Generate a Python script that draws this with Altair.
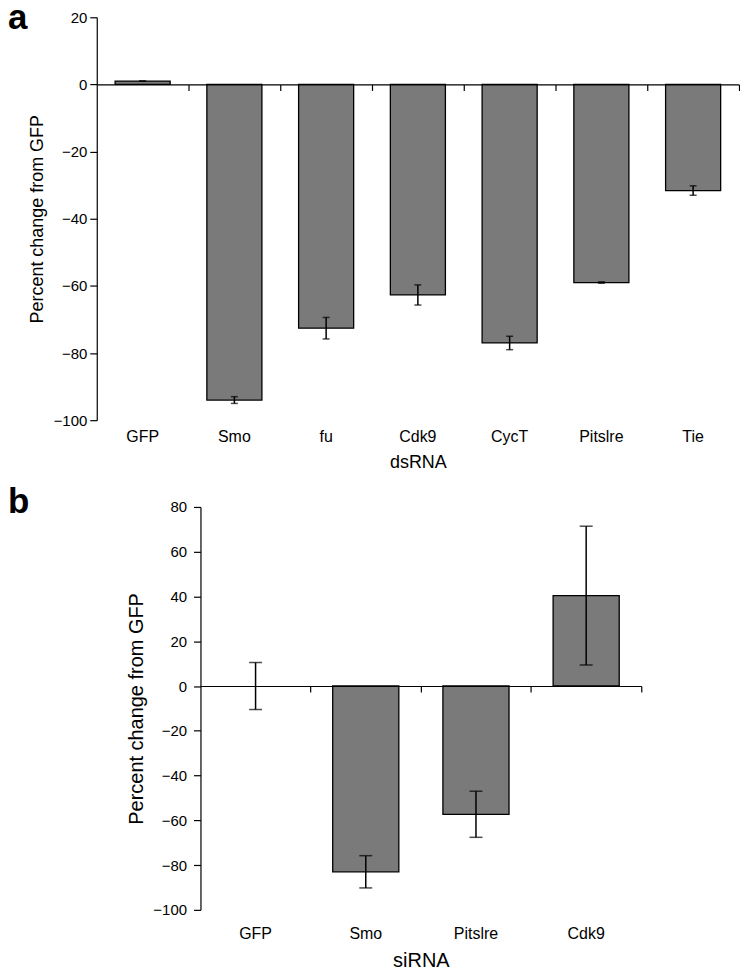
import altair as alt
import pandas as pd

FONT = "Liberation Sans"
BAR_COLOR = "#7a7a7a"

# Panel a (dsRNA)
a_categories = ["GFP", "Smo", "fu", "Cdk9", "CycT", "Pitslre", "Tie"]
a_values = [1.0, -94.0, -72.6, -62.7, -77.0, -59.0, -31.6]
a_errors = [0.0, 1.0, 3.2, 3.0, 2.0, 0.2, 1.4]
a_ticks = [20, 0, -20, -40, -60, -80, -100]

# Panel b (siRNA)
b_categories = ["GFP", "Smo", "Pitslre", "Cdk9"]
b_values = [0.0, -83.0, -57.3, 40.4]
b_errors = [10.5, 7.2, 10.3, 31.0]
b_ticks = [80, 60, 40, 20, 0, -20, -40, -60, -80, -100]


def make_panel(cats, vals, errs, ydomain, yticks, xtitle, width, height,
               cap, title_size, ytitle_pad, ylabel_pad, xlabel_pad):
    df = pd.DataFrame({
        "cat": cats,
        "val": vals,
        "lo": [v - e for v, e in zip(vals, errs)],
        "hi": [v + e for v, e in zip(vals, errs)],
    })
    xscale = alt.Scale(paddingInner=0, paddingOuter=0)
    yscale = alt.Scale(domain=ydomain, nice=False)
    yaxis = alt.Axis(
        values=yticks, title="Percent change from GFP", grid=False, orient="left",
        tickSize=7, tickWidth=1.2, tickColor="black",
        domainColor="black", domainWidth=1.2,
        labelPadding=ylabel_pad, labelFontSize=15, labelColor="black", labelFont=FONT,
        titleFontSize=title_size, titlePadding=ytitle_pad, titleFontWeight="normal",
        titleColor="black", titleFont=FONT,
    )
    label_axis = alt.Axis(
        orient="bottom", domain=False, ticks=False, tickSize=0, labelAngle=0,
        labelPadding=xlabel_pad, labelFontSize=16, labelColor="black", labelFont=FONT,
        title=xtitle, titleFontSize=title_size, titlePadding=9,
        titleFontWeight="normal", titleColor="black", titleFont=FONT,
    )
    zero_offset = -height * (0 - ydomain[0]) / (ydomain[1] - ydomain[0])
    zero_axis = alt.Axis(
        orient="bottom", labels=False, title=None, domain=True,
        domainColor="black", domainWidth=1.2,
        ticks=True, tickSize=6, tickColor="black", tickWidth=1.2,
        bandPosition=1, offset=zero_offset, zindex=2,
    )
    bars = alt.Chart(df).transform_filter("datum.val != 0").mark_bar(
        color=BAR_COLOR, stroke="black", strokeWidth=1.3,
        width=alt.RelativeBandSize(0.6),
    ).encode(
        x=alt.X("cat:N", sort=cats, scale=xscale, axis=label_axis),
        y=alt.Y("val:Q", scale=yscale, axis=yaxis),
    )
    rule = alt.Chart(df).mark_rule(color="black", strokeWidth=1.5).encode(
        x=alt.X("cat:N", sort=cats, scale=xscale, axis=zero_axis),
        y=alt.Y("lo:Q", scale=yscale, axis=yaxis),
        y2="hi:Q",
    )
    caps_lo = alt.Chart(df).mark_tick(color="black", thickness=1.5, size=cap).encode(
        x=alt.X("cat:N", sort=cats, scale=xscale, axis=None),
        y=alt.Y("lo:Q", scale=yscale, axis=yaxis),
    )
    caps_hi = alt.Chart(df).mark_tick(color="black", thickness=1.5, size=cap).encode(
        x=alt.X("cat:N", sort=cats, scale=xscale, axis=None),
        y=alt.Y("hi:Q", scale=yscale, axis=yaxis),
    )
    return alt.layer(bars, rule, caps_lo, caps_hi).resolve_axis(
        x="independent"
    ).properties(width=width, height=height)


def letter_cell(letter, width, height, baseline_y):
    return alt.Chart(pd.DataFrame({"t": [letter]})).mark_text(
        align="left", baseline="alphabetic", fontSize=35, fontWeight="bold",
        font=FONT, color="black",
    ).encode(
        text="t:N", x=alt.value(0), y=alt.value(baseline_y)
    ).properties(width=width, height=height)


panel_a = make_panel(a_categories, a_values, a_errors, [-100, 20], a_ticks, "dsRNA",
                     644, 404, 7, 18, 7, 3, 8)
panel_b = make_panel(b_categories, b_values, b_errors, [-100, 80], b_ticks, "siRNA",
                     442, 404, 13, 20, 6, 7, 16)

row_a = alt.hconcat(letter_cell("a", 16, 404, 12), panel_a, spacing=0)
row_b = alt.hconcat(letter_cell("b", 119, 404, 6), panel_b, spacing=0)

chart = alt.vconcat(row_a, row_b, spacing=14).properties(
    padding={"top": -8, "left": 0, "right": 0, "bottom": 0},
).configure(font=FONT).configure_view(stroke=None)

chart.save("out.html", embed_options={"renderer": "svg", "actions": False})
